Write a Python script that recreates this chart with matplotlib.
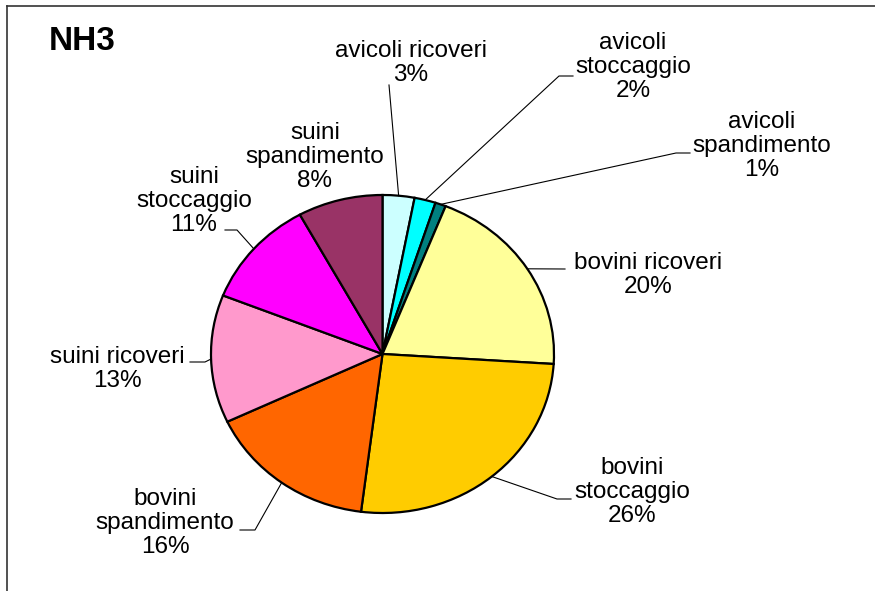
import matplotlib
matplotlib.use("Agg")
import matplotlib.pyplot as plt
import numpy as np

plt.rcParams['font.family'] = ['Liberation Sans', 'DejaVu Sans']

# NH3 emissions by source (%)
categorie = ["avicoli ricoveri", "avicoli\nstoccaggio", "avicoli\nspandimento",
             "bovini ricoveri", "bovini\nstoccaggio", "bovini\nspandimento",
             "suini ricoveri", "suini\nstoccaggio", "suini\nspandimento"]
quote = [3, 2, 1, 20, 26, 16, 13, 11, 8]
colori = ["#CCFFFF", "#00FFFF", "#008080", "#FFFF99", "#FFCC00", "#FF6600",
          "#FF99CC", "#FF00FF", "#993366"]

# canvas size and pie ellipse (pixels, y from top)
W, H = 875, 591
CX, CY, RX, RY = 382.5, 354.0, 171.5, 159.0

# label centres and leader-line elbows (pixels)
pos_etichette = [(411, 63), (633, 67), (762, 146), (648, 275), (632, 492),
                 (165, 523), (117, 369), (194, 201), (315, 157)]
gomiti = [[(389, 85)],
          [(559, 76), (573, 76)],
          [(676, 153), (690, 153)],
          [(565, 269)],
          [(557, 499), (571, 499)],
          [(255, 530), (240, 530)],
          [(205, 362), (190, 362)],
          [(237, 230), (225, 230)],
          []]

fig = plt.figure(figsize=(W / 100, H / 100), dpi=100)
fig.patch.set_facecolor('white')

ax_pie = fig.add_axes([(CX - RX) / W, 1 - (CY + RY) / H, 2 * RX / W, 2 * RY / H])
wedges, _ = ax_pie.pie(quote, colors=colori, startangle=90, counterclock=False,
                       wedgeprops=dict(edgecolor='black', linewidth=1.6))
for w in wedges:
    w.set_clip_on(False)
ax_pie.set_aspect('auto')
ax_pie.set_xlim(-1, 1)
ax_pie.set_ylim(-1, 1)
ax_pie.axis('off')

# overlay in pixel units for text, leaders and frame
ax = fig.add_axes([0, 0, 1, 1], zorder=2)
ax.set_xlim(0, W)
ax.set_ylim(H, 0)
ax.axis('off')
ax.patch.set_alpha(0)

for w, cat, q, (tx, ty), gom in zip(wedges, categorie, quote, pos_etichette, gomiti):
    ax.text(tx, ty, f"{cat}\n{q}%", ha='center', va='center', multialignment='center',
            fontsize=17.5, linespacing=1.13, color='black')
    if gom:
        th = np.radians((w.theta1 + w.theta2) / 2)
        xs = [CX + RX * np.cos(th)] + [p[0] for p in gom]
        ys = [CY - RY * np.sin(th)] + [p[1] for p in gom]
        ax.plot(xs, ys, color='black', lw=0.8)

ax.text(49, 41, "NH3", fontsize=24, fontweight='bold', ha='left', va='center')

# chart area border (left and top visible)
ax.plot([7, 7], [H, 6], color='#333333', lw=1.2, clip_on=False)
ax.plot([7, W], [6, 6], color='#333333', lw=1.2, clip_on=False)

fig.savefig("out.png", dpi=100)
